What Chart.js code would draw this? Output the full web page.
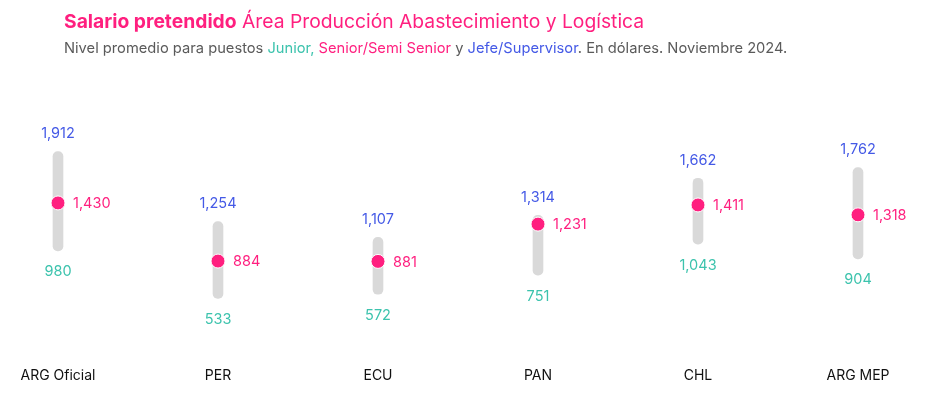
<!DOCTYPE html>
<html lang="es">
<head>
<meta charset="utf-8">
<title>Salario pretendido</title>
<script src="https://cdn.jsdelivr.net/npm/chart.js@4.4.1/dist/chart.umd.min.js"></script>
<style>
  html, body { margin: 0; padding: 0; background: #fff; }
  body { width: 940px; height: 396px; position: relative; overflow: hidden; font-family: "Inter", "Noto Sans", sans-serif; }
  #head { position: absolute; left: 64px; top: 9px; z-index: 2; }
  .title { font-size: 19.3px; color: #ff1f7f; }
  .title b { font-weight: 700; }
  .sub { font-size: 14.7px; color: #5a5a5a; margin-top: 6px; }
  .jr { color: #3cc3ad; }
  .sr { color: #ff1f7f; }
  .jf { color: #4459e6; }
  #wrap { position: absolute; left: 0; top: 0; width: 940px; height: 396px; }
</style>
</head>
<body>
<div id="head">
  <div class="title"><b>Salario pretendido</b> Área Producción Abastecimiento y Logística</div>
  <div class="sub">Nivel promedio para puestos <span class="jr">Junior,</span> <span class="sr">Senior/Semi Senior</span> y <span class="jf">Jefe/Supervisor</span>. En dólares. Noviembre 2024.</div>
</div>
<div id="wrap"><canvas id="chart" width="940" height="396"></canvas></div>
<script>
// ── DATA ──────────────────────────────────────────────────────────
const categories = ["ARG Oficial", "PER", "ECU", "PAN", "CHL", "ARG MEP"];
const junior     = [980, 533, 572, 751, 1043, 904];
const senior     = [1430, 884, 881, 1231, 1411, 1318];
const jefe       = [1912, 1254, 1107, 1314, 1662, 1762];

const PINK  = "#ff1f7f";
const BLUE  = "#4459e6";
const TEAL  = "#3cc3ad";
const GREY  = "#d9d9d9";
const FONT  = "Inter, 'Noto Sans', sans-serif";

const fmt = v => v.toLocaleString("en-US");

// Value labels drawn next to each range / dot
const valueLabels = {
  id: "valueLabels",
  afterDatasetsDraw(chart) {
    const { ctx } = chart;
    const bars = chart.getDatasetMeta(0).data;
    const dots = chart.getDatasetMeta(1).data;
    ctx.save();
    ctx.font = "14.5px " + FONT;
    ctx.textBaseline = "middle";
    bars.forEach((bar, i) => {
      const x   = bar.x;
      const top = Math.min(bar.y, bar.base);
      const bot = Math.max(bar.y, bar.base);
      ctx.textAlign = "center";
      ctx.fillStyle = BLUE;
      ctx.fillText(fmt(jefe[i]), x, top - 18);
      ctx.fillStyle = TEAL;
      ctx.fillText(fmt(junior[i]), x, bot + 21);
      ctx.textAlign = "left";
      ctx.fillStyle = PINK;
      ctx.fillText(fmt(senior[i]), dots[i].x + 15, dots[i].y + 1);
    });
    ctx.restore();
  }
};

new Chart(document.getElementById("chart"), {
  data: {
    labels: categories,
    datasets: [
      {
        type: "bar",
        data: categories.map((c, i) => [junior[i], jefe[i]]),
        backgroundColor: GREY,
        borderRadius: 5,
        borderSkipped: false,
        barThickness: 10,
        clip: false,
        order: 2,
      },
      {
        type: "line",
        data: senior,
        showLine: false,
        clip: false,
        pointRadius: 7,
        pointHoverRadius: 7,
        pointBackgroundColor: PINK,
        pointBorderColor: "#fff",
        pointBorderWidth: 1,
        order: 1,
      }
    ]
  },
  options: {
    responsive: false,
    animation: false,
    events: [],
    layout: { padding: { top: 89, left: 58, right: 82, bottom: 8 } },
    plugins: { legend: { display: false }, tooltip: { enabled: false } },
    scales: {
      x: {
        offset: false,
        grid: { display: false },
        border: { display: false },
        ticks: { color: "#111", font: { family: FONT, size: 14 }, padding: 4, maxRotation: 0 },
        // keep the plot area fixed; first/last labels may overhang
        afterFit(scale) { scale.paddingLeft = 0; scale.paddingRight = 0; }
      },
      y: {
        display: false,
        min: 0,
        max: 2500,
      }
    }
  },
  plugins: [valueLabels]
});
</script>
</body>
</html>
